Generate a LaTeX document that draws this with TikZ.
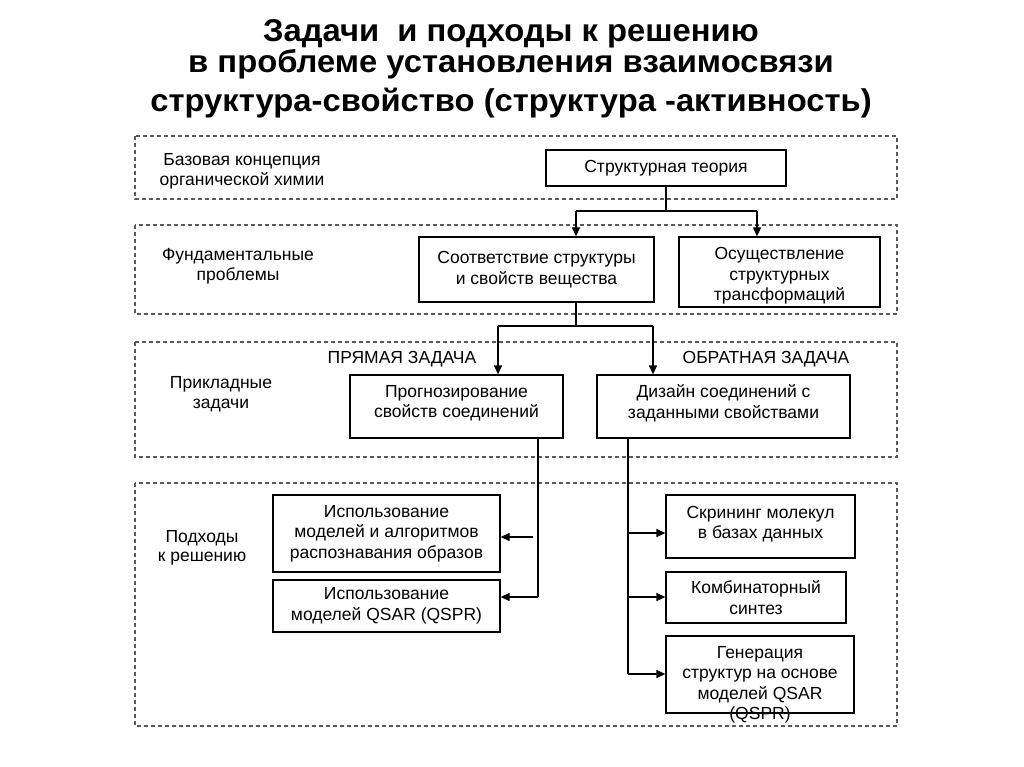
\documentclass[tikz,border=0pt]{standalone}
\usepackage{fontspec}
\setmainfont{Liberation Sans}
\newfontfamily\ttlfont[FakeStretch=1.04]{Liberation Sans}
\usetikzlibrary{arrows.meta}
\begin{document}
\begin{tikzpicture}[x=1pt,y=-1pt,
 box/.style={draw=black, line width=1.3pt, fill=white, align=center, inner sep=0pt, font=\fontsize{17.5}{20.5}\selectfont},
 txt/.style={align=center, inner sep=0pt, font=\fontsize{17.5}{20.5}\selectfont},
 lbl/.style={anchor=base, inner sep=0pt, font=\fontsize{17.5}{20.5}\selectfont},
 band/.style={draw=black!65, line width=1.1pt, dash pattern=on 4pt off 3pt},
 conn/.style={line width=1.3pt},
 arr/.style={conn, -{Triangle[length=9pt,width=8pt]}},
 ttl/.style={anchor=base, inner sep=0pt, font=\ttlfont\fontsize{31.5}{31.5}\selectfont\bfseries}]
\useasboundingbox (0,0) rectangle (1024,767);
\fill[white] (0,0) rectangle (1024,767);

% title
\node[ttl] (t1) at (511,42) {Задачи~ и подходы к решению};
\node[ttl] (t2) at (511,73) {в проблеме установления взаимосвязи};
\node[ttl] (t3) at (511,112) {структура-свойство (структура -активность)};

% bands
\draw[band] (135,136) rectangle (897,199);
\draw[band] (135,225) rectangle (897,314);
\draw[band] (135,342) rectangle (897,457);
\draw[band] (135,483) rectangle (897,726);

% left labels
\node[lbl] (l1a) at (242,166) {Базовая концепция};
\node[lbl] (l1b) at (242,186) {органической химии};
\node[lbl] (l2a) at (238,260) {Фундаментальные};
\node[lbl] (l2b) at (238,280) {проблемы};
\node[lbl] (l3a) at (221,388) {Прикладные};
\node[lbl] (l3b) at (221,408) {задачи};
\node[lbl] (l4a) at (202,542) {Подходы};
\node[lbl] (l4b) at (202,561) {к решению};
\node[lbl] (pz) at (402,363) {ПРЯМАЯ ЗАДАЧА};
\node[lbl] (oz) at (766,363) {ОБРАТНАЯ ЗАДАЧА};

% boxes
\node[box, minimum width=240pt, minimum height=36pt] (st) at (666,168) {Структурная теория};
\node[box, minimum width=235pt, minimum height=65pt] (so) at (536.5,269.5) {Соответствие структуры\\и свойств вещества};
\node[box, minimum width=201pt, minimum height=70pt] (os) at (779.5,272) {};
\node[txt] (ost) at (779.5,276) {Осуществление\\структурных\\трансформаций};
\node[box, minimum width=213pt, minimum height=63pt] (pr) at (456.5,406.5) {};
\node[txt] (prt) at (456.5,403) {Прогнозирование\\свойств соединений};
\node[box, minimum width=253pt, minimum height=63pt] (di) at (723.5,406.5) {};
\node[txt] (dit) at (723.5,403) {Дизайн соединений с\\заданными свойствами};
\node[box, minimum width=227pt, minimum height=77pt] (m1) at (386.5,533.5) {Использование\\моделей и алгоритмов\\распознавания образов};
\node[box, minimum width=227pt, minimum height=52pt] (m2) at (386.5,606) {Использование\\моделей QSAR (QSPR)};
\node[box, minimum width=189pt, minimum height=63pt] (sc) at (760.5,526.5) {};
\node[txt] (sct) at (760.5,524) {Скрининг молекул\\в базах данных};
\node[box, minimum width=180pt, minimum height=51pt] (ko) at (756,597.5) {Комбинаторный\\синтез};
\node[box, minimum width=188pt, minimum height=77pt] (ge) at (760,674.5) {};
\node[txt] (gt) at (760,685) {Генерация\\структур на основе\\моделей QSAR\\(QSPR)};

% connectors level 1
\coordinate (s1) at (666,211);
\coordinate (s1l) at (576,211);
\coordinate (s1r) at (757,211);
\draw[conn] (st.south) -- (st.south |- s1);
\draw[conn] (s1l) -- (s1r);
\draw[arr] (s1l) -- (s1l |- so.north);
\draw[arr] (s1r) -- (s1r |- os.north);

% connectors level 2
\coordinate (s2) at (576,326);
\coordinate (s2l) at (498,326);
\coordinate (s2r) at (653,326);
\draw[conn] (s2 |- so.south) -- (s2);
\draw[conn] (s2l) -- (s2r);
\draw[arr] (s2l) -- (s2l |- pr.north);
\draw[arr] (s2r) -- (s2r |- di.north);

% left column
\coordinate (v1) at (538,597);
\coordinate (v1a) at (533,537);
\draw[conn] (v1 |- pr.south) -- (v1);
\draw[arr] (v1) -- (v1 -| m2.east);
\draw[arr] (v1a) -- (v1a -| m1.east);

% right column
\coordinate (v2) at (628,674);
\coordinate (r1) at (628,533);
\coordinate (r2) at (628,597);
\draw[conn] (v2 |- di.south) -- (v2);
\draw[arr] (r1) -- (r1 -| sc.west);
\draw[arr] (r2) -- (r2 -| ko.west);
\draw[arr] (v2) -- (v2 -| ge.west);
\end{tikzpicture}
\end{document}
